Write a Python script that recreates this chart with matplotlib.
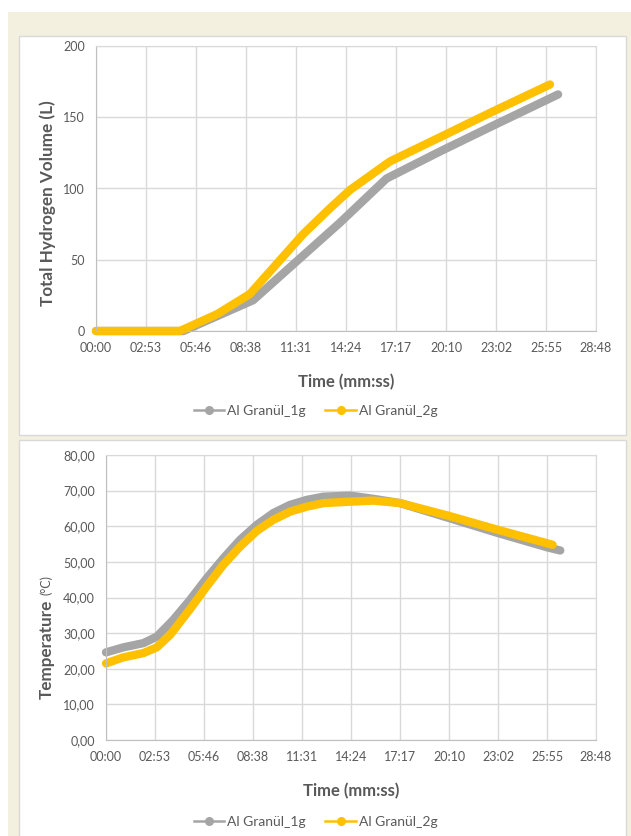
import numpy as np
import matplotlib
matplotlib.use("Agg")
import matplotlib.pyplot as plt
from matplotlib.lines import Line2D
from matplotlib.patches import Rectangle

plt.rcParams["font.family"] = ["Lato", "DejaVu Sans"]

# time axis (seconds), Excel major unit 0.002 day = 172.8 s
tick_labels = ["00:00", "02:53", "05:46", "08:38", "11:31", "14:24",
               "17:17", "20:10", "23:02", "25:55", "28:48"]
tick_step = 172.8
series_names = ["Al Granül_1g", "Al Granül_2g"]
colors = ["#A5A5A5", "#FFC000"]

# hydrogen volume (L)
vol_t_1g = [0, 302, 543, 843, 1004, 1189, 1361, 1597]
vol_1g = [0, 0, 21.6, 76, 107, 126, 143, 166]
vol_t_2g = [0, 290, 420, 532, 624, 716, 808, 878, 1016, 1189, 1361, 1569]
vol_2g = [0, 0, 12, 26, 47, 68, 86, 99, 119, 136, 153, 173]

# temperature (degC)
tmp_t_1g = [0, 61, 132, 179, 237, 296, 355, 414, 473, 532, 590, 649, 708,
            767, 861, 943, 1037, 1210, 1382, 1555, 1602]
tmp_1g = [24.6, 26.0, 27.2, 29.0, 33.7, 39.3, 45.4, 51.0, 56.2, 60.4, 63.7,
          66.0, 67.4, 68.3, 68.6, 67.7, 66.5, 62.3, 58.1, 54.1, 53.2]
tmp_t_2g = [0, 61, 132, 179, 226, 296, 355, 414, 473, 532, 590, 649, 708,
            767, 861, 943, 1037, 1210, 1382, 1575]
tmp_2g = [21.5, 23.2, 24.4, 26.0, 29.5, 36.7, 43.1, 49.2, 54.3, 58.7, 61.8,
          64.1, 65.5, 66.5, 66.9, 67.2, 66.5, 62.9, 59.0, 54.8]

W, H = 631, 836
fig = plt.figure(figsize=(W / 100, H / 100), dpi=100, facecolor="white")


def px_rect(x0, y0, x1, y1, z, **kw):
    fig.patches.append(Rectangle((x0 / W, 1 - y1 / H), (x1 - x0) / W,
                                 (y1 - y0) / H, transform=fig.transFigure,
                                 zorder=z, **kw))


px_rect(8, 12, 631, 836, -3, facecolor="#F3F0E0", edgecolor="none")
px_rect(19, 36, 626, 435, -2, facecolor="white", edgecolor="#D9D9D9", lw=1)
px_rect(19, 440, 626, 840, -2, facecolor="white", edgecolor="#D9D9D9", lw=1)

txt = "#595959"
lw_data = 6.0


def make_ax(left, top, right, bottom):
    ax = fig.add_axes([left / W, 1 - bottom / H, (right - left) / W,
                       (bottom - top) / H])
    ax.set_facecolor("none")
    ax.set_xlim(0, tick_step * 10)
    ax.set_xticks([i * tick_step for i in range(len(tick_labels))])
    ax.set_xticklabels(tick_labels)
    ax.grid(True, color="#D9D9D9", lw=1)
    ax.set_axisbelow(True)
    for s in ax.spines.values():
        s.set_color("#D9D9D9")
    ax.spines["left"].set_color("#BFBFBF")
    ax.spines["bottom"].set_color("#BFBFBF")
    ax.tick_params(length=0, labelsize=9, colors=txt, pad=8)
    ax.set_xlabel("Time (mm:ss)", fontsize=12, fontweight="bold", color=txt,
                  labelpad=14)
    return ax


def add_legend(ax, y):
    handles = [Line2D([], [], color=c, lw=1.8, marker="o", markersize=5.5)
               for c in colors]
    ax.legend(handles, series_names, loc="center", ncol=2, frameon=False,
              bbox_to_anchor=(0.5, y), bbox_transform=fig.transFigure,
              fontsize=10, labelcolor=txt, handlelength=2.2,
              handletextpad=0.2, columnspacing=1.4)


def plot_series(ax, t, v, c):
    ax.plot(t, v, color=c, lw=lw_data, solid_capstyle="round",
            solid_joinstyle="round", clip_on=False)


# top chart: hydrogen volume
ax1 = make_ax(96, 46, 596, 331)
plot_series(ax1, vol_t_1g, vol_1g, colors[0])
plot_series(ax1, vol_t_2g, vol_2g, colors[1])
ax1.set_ylim(0, 200)
ax1.set_yticks([0, 50, 100, 150, 200])
fig.text(48 / W, 1 - 203 / H, "Total Hydrogen Volume (L)", rotation=90,
         fontsize=12.3, fontweight="bold", color=txt, ha="center",
         va="center")
add_legend(ax1, 1 - 411 / H)

# bottom chart: temperature
ax2 = make_ax(106, 455, 596, 740)
plot_series(ax2, tmp_t_1g, tmp_1g, colors[0])
plot_series(ax2, tmp_t_2g, tmp_2g, colors[1])
ax2.set_ylim(0, 80)
ax2.set_yticks(np.arange(0, 81, 10))
ax2.set_yticklabels([f"{v:.2f}".replace(".", ",") for v in range(0, 81, 10)])
fig.text(47 / W, 1 - 649 / H, "Temperature", rotation=90, fontsize=12.3,
         fontweight="bold", color=txt, ha="center", va="center")
fig.text(46 / W, 1 - 585 / H, "(°C)", rotation=90, fontsize=9, color=txt,
         ha="center", va="center")
add_legend(ax2, 1 - 822 / H)

fig.savefig("out.png", dpi=100, facecolor=fig.get_facecolor())
